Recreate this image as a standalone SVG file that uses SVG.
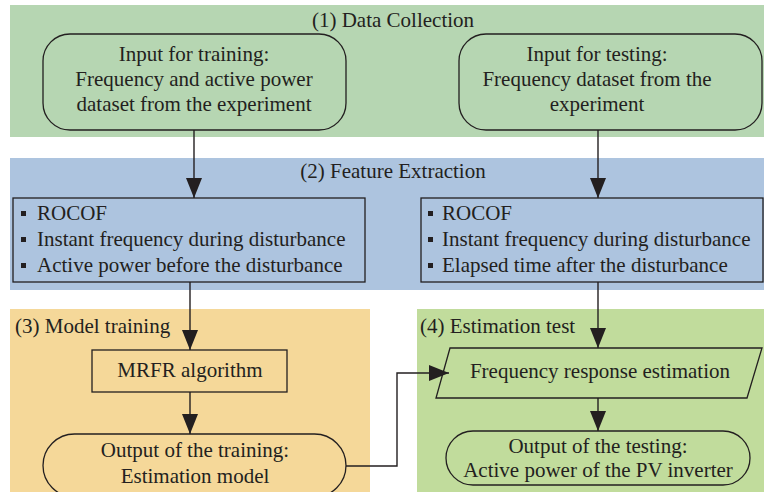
<svg xmlns="http://www.w3.org/2000/svg" width="764" height="492" viewBox="0 0 764 492" font-family="'Liberation Serif', 'Times New Roman', serif">
<defs>
<style>
text{font-family:'Liberation Serif','Times New Roman',serif;font-size:21px;fill:#231f20}
.c{text-anchor:middle}
.n{fill:none;stroke:#231f20;stroke-width:1.3}
.conn{fill:none;stroke:#231f20;stroke-width:1.4}
.b{fill:#231f20}
</style>
<marker id="ah" markerUnits="userSpaceOnUse" markerWidth="20" markerHeight="17" refX="20" refY="8" orient="auto" viewBox="0 0 20 16">
<path d="M0,0 L20,8 L0,16 Z" fill="#231f20"/>
</marker>
</defs>
<g id="regions">
<rect x="10" y="5" width="754" height="132" fill="#b6d6b2"/>
<rect x="10" y="158" width="754" height="132" fill="#adc4df"/>
<rect x="10" y="309" width="360" height="183" fill="#f5d899"/>
<rect x="417" y="309" width="347" height="183" fill="#c1dc9c"/>
<text x="393" y="27" class="c">(1) Data Collection</text>
<text x="393" y="178" class="c">(2) Feature Extraction</text>
<text x="15" y="333">(3) Model training</text>
<text x="420" y="333">(4) Estimation test</text>
</g>
<g id="input-training">
<rect x="43" y="34" width="303" height="96" rx="27" ry="27" class="n"/>
<text x="194" y="61" class="c">Input for training:</text>
<text x="194" y="86" class="c">Frequency and active power</text>
<text x="194" y="111" class="c">dataset from the experiment</text>
</g>
<g id="input-testing">
<rect x="459" y="34" width="303" height="96" rx="27" ry="27" class="n"/>
<text x="597" y="61" class="c">Input for testing:</text>
<text x="597" y="86" class="c">Frequency dataset from the</text>
<text x="597" y="111" class="c">experiment</text>
</g>
<g id="features-training">
<rect x="13" y="198" width="352" height="84" class="n"/>
<rect x="21" y="211" width="5" height="5" class="b"/>
<rect x="21" y="237" width="5" height="5" class="b"/>
<rect x="21" y="263" width="5" height="5" class="b"/>
<text x="37" y="220">ROCOF</text>
<text x="37" y="246">Instant frequency during disturbance</text>
<text x="37" y="272">Active power before the disturbance</text>
</g>
<g id="features-testing">
<rect x="421" y="198" width="342" height="84" class="n"/>
<rect x="428" y="211" width="5" height="5" class="b"/>
<rect x="428" y="237" width="5" height="5" class="b"/>
<rect x="428" y="263" width="5" height="5" class="b"/>
<text x="442" y="220">ROCOF</text>
<text x="442" y="246">Instant frequency during disturbance</text>
<text x="442" y="272">Elapsed time after the disturbance</text>
</g>
<g id="mrfr">
<rect x="92" y="350" width="195" height="42" class="n"/>
<text x="190" y="377" class="c">MRFR algorithm</text>
</g>
<g id="output-training">
<rect x="43" y="434" width="303" height="63" rx="31.5" ry="31.5" class="n"/>
<text x="195" y="457" class="c">Output of the training:</text>
<text x="195" y="483" class="c">Estimation model</text>
</g>
<g id="estimation">
<path d="M450,348 L762,348 L747,398 L436,398 Z" class="n"/>
<text x="600" y="378" class="c">Frequency response estimation</text>
</g>
<g id="output-testing">
<rect x="446" y="431" width="304" height="54" rx="27" ry="27" class="n"/>
<text x="598" y="453" class="c">Output of the testing:</text>
<text x="598" y="477" class="c">Active power of the PV inverter</text>
</g>
<g id="connectors">
<path d="M194,130 V198" class="conn" marker-end="url(#ah)"/>
<path d="M598,130 V198" class="conn" marker-end="url(#ah)"/>
<path d="M190,282 V350" class="conn" marker-end="url(#ah)"/>
<path d="M598,282 V348" class="conn" marker-end="url(#ah)"/>
<path d="M190,392 V434" class="conn" marker-end="url(#ah)"/>
<path d="M598,398 V431" class="conn" marker-end="url(#ah)"/>
<path d="M346,466 H397 V373 H449" class="conn" marker-end="url(#ah)"/>
</g>
</svg>
